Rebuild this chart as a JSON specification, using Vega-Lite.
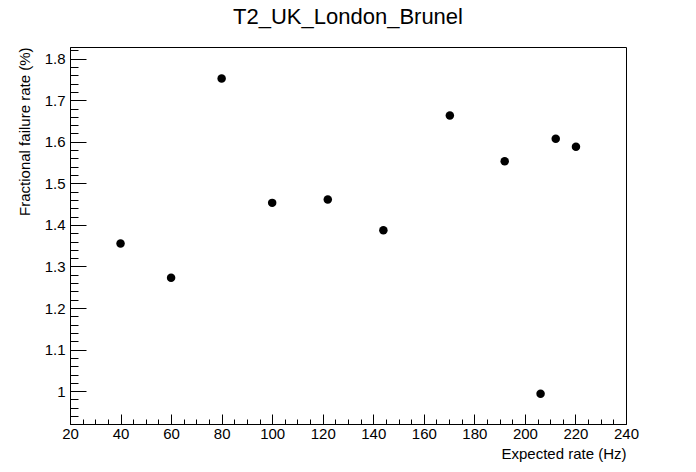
{
  "$schema": "https://vega.github.io/schema/vega-lite/v6.json",
  "autosize": "none",
  "width": 556,
  "height": 377,
  "padding": {"left": 70, "top": 47, "right": 70, "bottom": 48},
  "background": "white",
  "title": {
    "text": "T2_UK_London_Brunel",
    "font": "Liberation Sans",
    "fontSize": 22,
    "fontWeight": "normal",
    "color": "black",
    "anchor": "middle",
    "offset": 14
  },
  "config": {
    "view": {"stroke": "black", "strokeWidth": 1},
    "axis": {
      "domainColor": "black",
      "tickColor": "black",
      "labelColor": "black",
      "titleColor": "black",
      "labelFont": "Liberation Sans",
      "titleFont": "Liberation Sans",
      "labelFontSize": 15,
      "titleFontSize": 15,
      "titleFontWeight": "normal",
      "grid": false
    }
  },
  "data": {
    "values": [
      {"rate": 40.0, "fail": 1.355},
      {"rate": 60.0, "fail": 1.273},
      {"rate": 80.0, "fail": 1.752},
      {"rate": 100.0, "fail": 1.453},
      {"rate": 122.0, "fail": 1.461},
      {"rate": 144.0, "fail": 1.387},
      {"rate": 170.3, "fail": 1.663},
      {"rate": 192.0, "fail": 1.553},
      {"rate": 206.2, "fail": 0.994},
      {"rate": 212.2, "fail": 1.607},
      {"rate": 220.2, "fail": 1.588}
    ]
  },
  "mark": {"type": "point", "shape": "circle", "filled": true, "color": "black", "opacity": 1, "size": 72},
  "encoding": {
    "x": {
      "field": "rate",
      "type": "quantitative",
      "scale": {"domain": [20, 240], "nice": false, "zero": false},
      "axis": {
        "title": "Expected rate (Hz)",
        "titleAnchor": "end",
        "titleAlign": "right",
        "titlePadding": 0,
        "values": [20,25,30,35,40,45,50,55,60,65,70,75,80,85,90,95,100,105,110,115,120,125,130,135,140,145,150,155,160,165,170,175,180,185,190,195,200,205,210,215,220,225,230,235,240],
        "labelExpr": "datum.value % 20 === 0 ? datum.label : ''",
        "format": "d",
        "tickSize": {"condition": {"test": "datum.value % 20 === 0", "value": -10}, "value": -5},
        "labelPadding": 12,
        "labelFlush": false,
        "labelOverlap": false
      }
    },
    "y": {
      "field": "fail",
      "type": "quantitative",
      "scale": {"domain": [0.921, 1.828], "nice": false, "zero": false},
      "axis": {
        "title": "Fractional failure rate (%)",
        "titleAnchor": "end",
        "titleAlign": "right",
        "titlePadding": 12,
        "values": [0.94,0.96,0.98,1.0,1.02,1.04,1.06,1.08,1.1,1.12,1.14,1.16,1.18,1.2,1.22,1.24,1.26,1.28,1.3,1.32,1.34,1.36,1.38,1.4,1.42,1.44,1.46,1.48,1.5,1.52,1.54,1.56,1.58,1.6,1.62,1.64,1.66,1.68,1.7,1.72,1.74,1.76,1.78,1.8,1.82],
        "labelExpr": "round(datum.value * 100) % 10 === 0 ? format(datum.value, '.1~f') : ''",
        "tickSize": {"condition": {"test": "round(datum.value * 100) % 10 === 0", "value": -16}, "value": -8},
        "labelPadding": 21,
        "labelFlush": false,
        "labelOverlap": false
      }
    }
  }
}
